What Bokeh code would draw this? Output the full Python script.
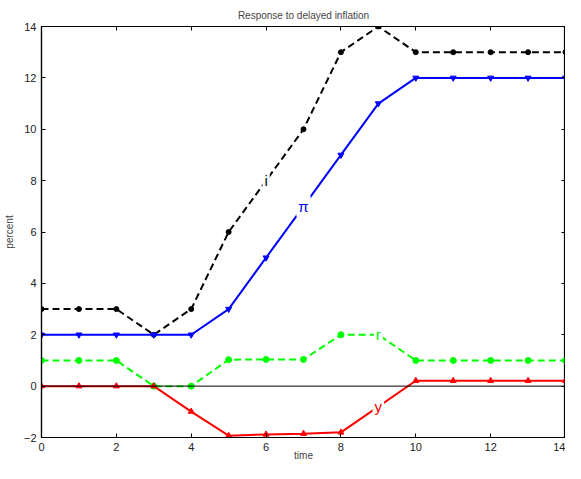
from bokeh.plotting import figure
from bokeh.models import ColumnDataSource, LinearAxis, Span, FixedTicker, Range1d, Label
from bokeh.embed import file_html
from bokeh.resources import INLINE

time = list(range(15))
i_rate = [3, 3, 3, 2, 3, 6, 8, 10, 13, 14, 13, 13, 13, 13, 13]
inflation = [2, 2, 2, 2, 2, 3, 5, 7, 9, 11, 12, 12, 12, 12, 12]
real_rate = [1, 1, 1, 0, 0, 1.03, 1.04, 1.04, 2, 2, 1, 1, 1, 1, 1]
output_gap = [0, 0, 0, 0, -0.99, -1.93, -1.88, -1.85, -1.8, -0.8, 0.21, 0.21, 0.21, 0.21, 0.21]

x_ticks = [0, 2, 4, 6, 8, 10, 12, 14]
y_ticks = [-2, 0, 2, 4, 6, 8, 10, 12, 14]

label_names = ["i", "π", "r", "y"]
label_index = [6, 7, 9, 9]
label_colors = ["#0b0b0b", "#0000fe", "#00fe00", "#fe0000"]

FONT = "Liberation Sans"

src = ColumnDataSource(dict(t=time, i=i_rate, pi=inflation, r=real_rate, y=output_gap))

p = figure(width=565, height=463, x_range=Range1d(0, 14), y_range=Range1d(-2, 14),
           output_backend="svg", toolbar_location=None,
           title="Response to delayed inflation",
           min_border_left=40, min_border_right=0, min_border_top=26, min_border_bottom=20)
p.background_fill_color = "white"
p.border_fill_color = "white"
p.outline_line_color = "black"
p.outline_line_width = 1.2
p.grid.visible = False

p.title.align = "center"
p.title.text_font = FONT
p.title.text_font_style = "normal"
p.title.text_font_size = "10px"
p.title.standoff = 12
p.title.offset = 0

for ax in (p.xaxis[0], p.yaxis[0]):
    ax.major_tick_in = 4
    ax.major_tick_out = 0
    ax.minor_tick_line_color = None
    ax.major_label_text_font = FONT
    ax.major_label_text_font_size = "11px"
    ax.major_label_text_color = "#222222"
    ax.axis_label_text_font = FONT
    ax.axis_label_text_font_size = "10px"
    ax.axis_label_text_font_style = "normal"
    ax.axis_line_width = 1.2

p.xaxis.ticker = FixedTicker(ticks=x_ticks)
p.yaxis.ticker = FixedTicker(ticks=y_ticks)
p.xaxis.axis_label = "time"
p.yaxis.axis_label = "percent"
p.xaxis.major_label_standoff = 5
p.xaxis.axis_label_standoff = -4
p.yaxis.major_label_standoff = 5
p.yaxis.axis_label_standoff = 6

top = LinearAxis(ticker=FixedTicker(ticks=x_ticks), major_label_text_font_size="1px",
                 major_label_text_color=None,
                 major_tick_in=4, major_tick_out=0, minor_tick_line_color=None,
                 major_label_standoff=0, axis_line_width=1.2)
right = LinearAxis(ticker=FixedTicker(ticks=y_ticks), major_label_text_font_size="1px",
                   major_label_text_color=None,
                   major_tick_in=4, major_tick_out=0, minor_tick_line_color=None,
                   major_label_standoff=0, axis_line_width=2)
p.add_layout(top, "above")
p.add_layout(right, "right")

p.add_layout(Span(location=0, dimension="width", line_color="black", line_width=1))

p.line("t", "i", source=src, line_color="black", line_width=2, line_dash="7 4")
p.scatter("t", "i", source=src, marker="circle", size=5, color="black")

p.line("t", "pi", source=src, line_color="blue", line_width=2)
p.scatter("t", "pi", source=src, marker="inverted_triangle", size=6, color="blue")

p.line("t", "r", source=src, line_color="#00ff00", line_width=2, line_dash="7 4")
p.scatter("t", "r", source=src, marker="circle", size=6, color="#00ff00")

p.line("t", "y", source=src, line_color="red", line_width=2)
p.scatter("t", "y", source=src, marker="triangle", size=6, color="red")

series = {"i": i_rate, "π": inflation, "r": real_rate, "y": output_gap}
for name, k, col in zip(label_names, label_index, label_colors):
    p.add_layout(Label(x=time[k], y=series[name][k], text=name, text_color=col,
                       text_font=FONT, text_font_size="15px",
                       text_align="center", text_baseline="middle",
                       background_fill_color="white", padding=2))

open("out.html", "w").write(file_html(p, INLINE))
